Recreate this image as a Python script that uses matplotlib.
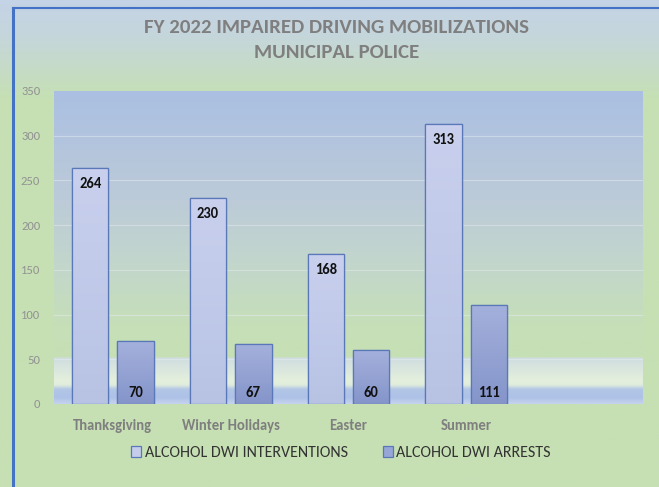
import numpy as np
import matplotlib
matplotlib.use("Agg")
import matplotlib.pyplot as plt
from matplotlib.colors import LinearSegmentedColormap
from matplotlib.patches import Rectangle, Patch
from matplotlib.lines import Line2D

categories = ["Thanksgiving", "Winter Holidays", "Easter", "Summer"]
interventions = [264, 230, 168, 313]
arrests = [70, 67, 60, 111]
series_names = ["ALCOHOL DWI INTERVENTIONS", "ALCOHOL DWI ARRESTS"]
title = "FY 2022 IMPAIRED DRIVING MOBILIZATIONS\nMUNICIPAL POLICE"
yticks = [0, 50, 100, 150, 200, 250, 300, 350]

fam = ["Carlito", "Liberation Sans Narrow", "Archivo Narrow", "DejaVu Sans"]
plt.rcParams["font.family"] = fam

fig = plt.figure(figsize=(6.59, 4.87), dpi=100)

# figure background gradient
bg = fig.add_axes([0, 0, 1, 1], zorder=-10)
bg_cmap = LinearSegmentedColormap.from_list(
    "bg", [(0.0, "#c6e0b4"), (0.80, "#c6e0b4"), (0.93, "#c5d6dc"), (1.0, "#c4d3e6")])
bg.imshow(np.linspace(0, 1, 256)[::-1].reshape(-1, 1), aspect="auto", cmap=bg_cmap,
          extent=[0, 1, 0, 1], origin="upper")
bg.set_xlim(0, 1); bg.set_ylim(0, 1)
bg.axis("off")
bg.add_line(Line2D([12.5 / 659, 12.5 / 659], [0, 1 - 8 / 487], color="#4472c4", lw=2.2))
bg.add_line(Line2D([12.5 / 659, 1], [1 - 8 / 487, 1 - 8 / 487], color="#4472c4", lw=1.5))

W, H = 659, 487
left, right, top, bottom = 54, 643, 91, 404
ax = fig.add_axes([left / W, 1 - bottom / H, (right - left) / W, (bottom - top) / H])
ax.set_facecolor("none")

n = len(categories)
ax.set_xlim(-0.5, n + 0.5)
ax.set_ylim(0, 350)

pa_cmap = LinearSegmentedColormap.from_list(
    "pa", [(0.0, "#c4d2ec"), (0.019, "#aec2e8"), (0.045, "#b2c6e6"), (0.06, "#e2eedc"),
           (0.075, "#e4efdc"), (0.145, "#cfdde0"), (0.147, "#c6e0b4"),
           (0.25, "#c6dfb8"), (0.45, "#c2d6cc"), (0.65, "#bccbd8"), (0.85, "#b2c4de"),
           (1.0, "#aabfe2")])
ax.imshow(np.linspace(0, 1, 512).reshape(-1, 1), aspect="auto", cmap=pa_cmap,
          extent=[-0.5, n + 0.5, 0, 350], origin="lower", zorder=0)

for v in yticks[1:-1]:
    ax.axhline(v, color="#e4ecf0", lw=0.8, alpha=0.5, zorder=1)

x = np.arange(n)
bw = 0.31
off = 0.193
b1 = ax.bar(x - off, interventions, bw, color="#c5cdeb", edgecolor="#5a78b8", lw=0.9, zorder=3)
b2 = ax.bar(x + off, arrests, bw, color="#9aa8d8", edgecolor="#5a78b8", lw=0.9, zorder=3)

c1 = LinearSegmentedColormap.from_list("c1", ["#b8c3e4", "#c9d0ee"])
c2 = LinearSegmentedColormap.from_list("c2", ["#8595ca", "#a4b0dc"])
for bars, cm in ((b1, c1), (b2, c2)):
    for r in bars:
        x0, w, h = r.get_x(), r.get_width(), r.get_height()
        im = ax.imshow(np.linspace(0, 1, 64).reshape(-1, 1), aspect="auto", cmap=cm,
                       extent=[x0, x0 + w, 0, h], origin="lower", zorder=3.5)
        im.set_clip_path(r)
        ax.add_patch(Rectangle((x0, 0), w, h, fill=False, edgecolor="#5a78b8", lw=0.9, zorder=4))

for xi, v in zip(x, interventions):
    ax.text(xi - off, v - 18, str(v), ha="center", va="center", fontsize=10.5,
            fontweight="bold", color="#111111", zorder=5)
for xi, v in zip(x, arrests):
    ax.text(xi + off, 12, str(v), ha="center", va="center", fontsize=10.5,
            fontweight="bold", color="#111111", zorder=5)

ax.set_yticks(yticks)
ax.set_yticklabels([str(t) for t in yticks], color="#929292", fontsize=9)
ax.set_xticks(x)
ax.set_xticklabels(categories, color="#7f7f7f", fontsize=10.5, fontweight="bold")
ax.tick_params(axis="both", length=0)
ax.tick_params(axis="y", pad=10)
ax.tick_params(axis="x", pad=11)
for s in ax.spines.values():
    s.set_visible(False)

fig.text(337 / W, 1 - 40 / H, title, ha="center", va="center", fontsize=15,
         fontweight="bold", color="#7f7f7f", linespacing=1.55)

handles = [Patch(facecolor="#c5cdeb", edgecolor="#5a78b8", lw=0.9),
           Patch(facecolor="#97a6d6", edgecolor="#5a78b8", lw=0.9)]
fig.legend(handles, series_names, loc="center", bbox_to_anchor=(341 / W, 1 - 453 / H),
           ncol=2, frameon=False, fontsize=11.5, handlelength=0.65, handleheight=0.65,
           handletextpad=0.2, columnspacing=2.2, labelcolor="#333333")

fig.savefig("out.png", dpi=100)
